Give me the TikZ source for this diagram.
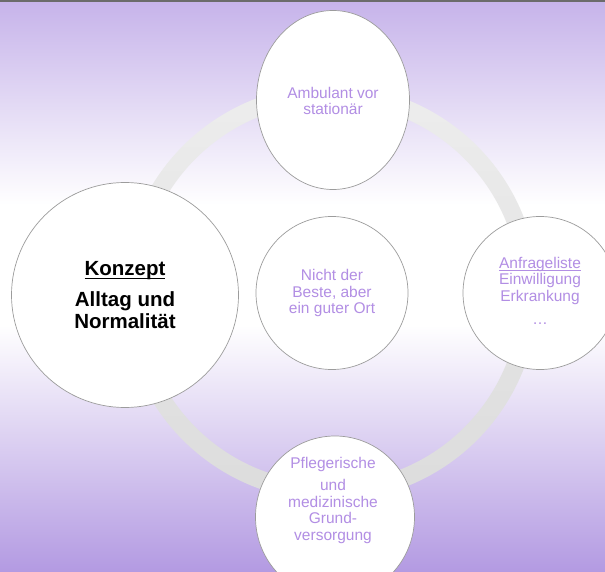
\documentclass[tikz,border=0pt]{standalone}
\usepackage{fontspec}
\setmainfont{Liberation Sans}
\usetikzlibrary{shapes.geometric}
\definecolor{bgtop}{HTML}{C6B3EA}
\definecolor{bgbot}{HTML}{B39AE2}
\definecolor{txtp}{HTML}{B28EE4}
\definecolor{edgec}{HTML}{9C9C9C}
\definecolor{ringtop}{HTML}{EDEDED}
\definecolor{ringbot}{HTML}{DCDCDC}
\newcommand\myunder[3]{\setbox0\hbox{#1}\rlap{\rule[#2]{\wd0}{#3}}\box0}
\tikzset{
  ball/.style={ellipse, draw=edgec, line width=0.7pt, fill=white, inner sep=0pt},
  ptxt/.style={font=\fontsize{15.5}{16.5}\selectfont, text=txtp, align=center, inner sep=0pt},
  ktxt/.style={font=\fontsize{20.5}{22}\selectfont\bfseries, text=black, align=center, inner sep=0pt}
}
\begin{document}
\begin{tikzpicture}[x=1pt,y=-1pt]
\useasboundingbox (0,0) rectangle (605,572);
\fill[white] (0,0) rectangle (605,572);
\shade[top color=bgtop, bottom color=white] (0,0) rectangle (605,205);
\shade[top color=white, bottom color=bgbot] (0,325) rectangle (605,572);
\fill[black!58] (0,0) rectangle (605,2);
% ring
\shade[top color=ringtop, bottom color=ringbot, even odd rule]
  (330,293) circle (208pt) (330,293) circle (190pt);
% circles
\node[ball, minimum width=227, minimum height=225] (konz) at (125,295) {};
\node[ball, minimum width=153, minimum height=179] (top) at (333,100) {};
\node[ball, minimum width=152, minimum height=153] (mid) at (332,293) {};
\node[ball, minimum width=154, minimum height=153] (right) at (540,293) {};
\node[ball, minimum width=159, minimum height=162] (bot) at (335,517) {};
% texts
\node[ktxt] (tk) at (125,295) {\myunder{Konzept}{-4pt}{1.6pt}\\[9pt]Alltag und\\Normalität};
\node[ptxt] (tt) at (333,101) {Ambulant vor\\stationär};
\node[ptxt] (tm) at (332,293) {Nicht der\\Beste, aber\\ein guter Ort};
\node[ptxt] (tr) at (540,291) {\myunder{Anfrageliste}{-3pt}{0.9pt}\\Einwilligung\\Erkrankung\\[7pt]…};
\node[ptxt] (tb) at (333,500) {Pflegerische\\[6pt]und\\medizinische\\Grund-\\versorgung};
\end{tikzpicture}
\end{document}
